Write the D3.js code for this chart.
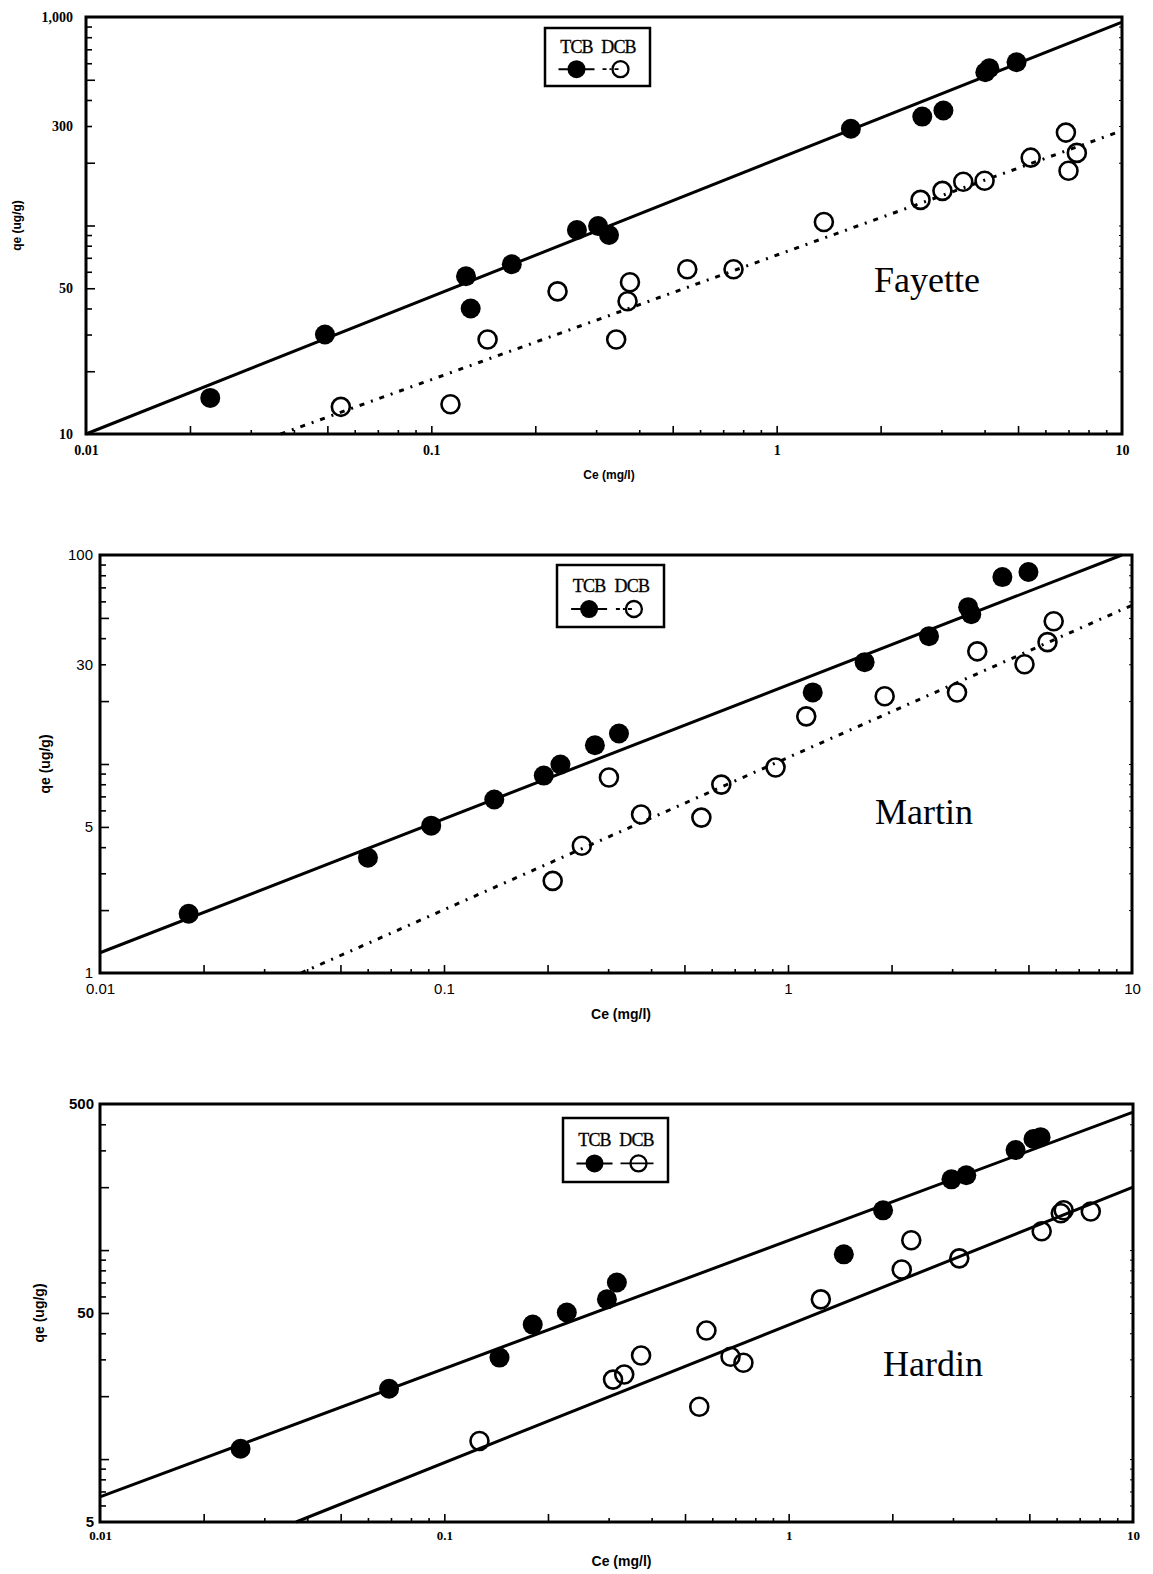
<!DOCTYPE html>
<html>
<head>
<meta charset="utf-8">
<script src="https://cdn.jsdelivr.net/npm/d3@7"></script>
<style>
  html, body { margin: 0; padding: 0; background: #fff; }
  svg { display: block; }
</style>
</head>
<body>
<svg id="chart" width="1153" height="1574"></svg>
<script>
// ---------------- DATA (Ce mg/l, qe ug/g) ----------------
const xTickValues = [0.01, 0.1, 1, 10];
const xTickLabels = ["0.01", "0.1", "1", "10"];

// Fayette
const fayetteYTicks = [10, 50, 300, 1000];
const fayetteYLabels = ["10", "50", "300", "1,000"];
const fayetteTCB = [[0.0229,14.9],[0.0492,30.0],[0.126,57.1],[0.130,40.0],[0.171,65.2],[0.264,95.1],[0.304,99.5],[0.327,90.0],[1.64,291],[2.64,333],[3.04,356],[4.02,543],[4.13,568],[4.95,607]];
const fayetteDCB = [[0.0547,13.5],[0.1136,13.9],[0.1455,28.4],[0.232,48.3],[0.343,28.4],[0.376,53.4],[0.370,43.3],[0.551,61.7],[0.75,61.7],[1.37,104],[2.61,132.7],[3.02,146.6],[3.47,162],[4.0,164],[5.44,211.5],[6.88,279],[7.4,223],[7.0,183]];
const fayetteFitTCB = [[0.01,10],[10,946]];
const fayetteFitDCB = [[0.0366,10],[10,285]];

// Martin
const martinYTicks = [1, 5, 30, 100];
const martinYLabels = ["1", "5", "30", "100"];
const martinTCB = [[0.0181,1.92],[0.0601,3.56],[0.0918,5.07],[0.140,6.76],[0.195,8.8],[0.218,9.95],[0.2746,12.3],[0.3226,14.0],[1.18,22.0],[1.67,30.7],[2.57,40.9],[3.34,56.3],[3.41,52.1],[4.20,78.4],[5.0,82.9]];
const martinDCB = [[0.207,2.76],[0.2516,4.06],[0.3016,8.62],[0.374,5.73],[0.56,5.54],[0.64,7.97],[0.92,9.62],[1.13,16.9],[1.91,21.1],[3.10,22.0],[3.55,34.6],[4.87,30.0],[5.68,38.3],[5.92,48.2]];
const martinFitTCB = [[0.01,1.25],[9.35,100]];
const martinFitDCB = [[0.0384,1],[10,57.5]];

// Hardin
const hardinYTicks = [5, 50, 500];
const hardinYLabels = ["5", "50", "500"];
const hardinTCB = [[0.0256,11.2],[0.0691,21.7],[0.1446,30.6],[0.1806,44.0],[0.2268,50.3],[0.2966,58.1],[0.317,70.0],[1.446,95.4],[1.88,155],[2.97,218],[3.28,228],[4.56,301],[5.14,340],[5.39,347]];
const hardinDCB = [[0.1265,12.2],[0.550,17.8],[0.309,24.0],[0.333,25.4],[0.3727,31.3],[0.577,41.2],[0.678,30.9],[0.739,28.9],[1.24,58.1],[2.13,80.8],[2.27,111.4],[3.13,91.3],[5.43,123],[6.17,150],[6.29,155],[7.54,153]];
const hardinFitTCB = [[0.01,6.59],[10,457]];
const hardinFitDCB = [[0.0371,5],[10,200]];

const legendNames = ["TCB", "DCB"];
const panelNames = ["Fayette", "Martin", "Hardin"];

// ---------------- DRAWING ----------------
const svg = d3.select("#chart");
const SERIF = "'Liberation Serif', 'Times New Roman', serif";
const SANS = "'Liberation Sans', Arial, sans-serif";

const panels = [
  { name: panelNames[0], box: {l:86, r:1122, t:17, b:434}, yDomain:[10,1000],
    yTicks: fayetteYTicks, yLabels: fayetteYLabels, tcb: fayetteTCB, dcb: fayetteDCB,
    fitT: fayetteFitTCB, fitD: fayetteFitDCB, dcbDash: true,
    tickFontY: {family: SERIF, size: 14, weight: "bold"}, tickFontX: {family: SERIF, size: 14, weight: "bold"},
    padX: 11, padY: 13,
    titleFont: 12, yTitleX: 18, xTitleY: 479,
    legend: {x: 545, y: 28, w: 105, h: 58}, label: {x: 927, y: 292} },
  { name: panelNames[1], box: {l:100, r:1132, t:555, b:973}, yDomain:[1,100],
    yTicks: martinYTicks, yLabels: martinYLabels, tcb: martinTCB, dcb: martinDCB,
    fitT: martinFitTCB, fitD: martinFitDCB, dcbDash: true,
    tickFontY: {family: SANS, size: 15, weight: "normal"}, tickFontX: {family: SANS, size: 15, weight: "normal"},
    padX: 10, padY: 7,
    titleFont: 14, yTitleX: 46, xTitleY: 1019,
    legend: {x: 557, y: 565, w: 107, h: 62}, label: {x: 924, y: 824} },
  { name: panelNames[2], box: {l:100, r:1133, t:1104, b:1522}, yDomain:[5,500],
    yTicks: hardinYTicks, yLabels: hardinYLabels, tcb: hardinTCB, dcb: hardinDCB,
    fitT: hardinFitTCB, fitD: hardinFitDCB, dcbDash: false,
    tickFontY: {family: SANS, size: 15, weight: "bold"}, tickFontX: {family: SERIF, size: 13, weight: "bold"},
    padX: 9, padY: 6,
    titleFont: 14, yTitleX: 40, xTitleY: 1566,
    legend: {x: 563, y: 1118, w: 105, h: 64}, label: {x: 933, y: 1376} }
];

function isMajorMinor(v) {
  const m = v / Math.pow(10, Math.floor(Math.log10(v) + 1e-9));
  const r = Math.round(m);
  return r === 1 || r === 2 || r === 5;
}

panels.forEach(p => {
  const {l, r, t, b} = p.box;
  const x = d3.scaleLog().domain([0.01, 10]).range([l, r]);
  const y = d3.scaleLog().domain(p.yDomain).range([b, t]);
  const g = svg.append("g");

  const xMinor = x.ticks().filter(v => v > 0.0100001 && v < 9.9999);
  const yMinor = y.ticks().filter(v => v > p.yDomain[0] * 1.0001 && v < p.yDomain[1] * 0.9999);

  const axB = g.append("g").attr("transform", `translate(0,${b})`)
    .call(d3.axisBottom(x).tickValues(xMinor).tickSizeInner(-5).tickSizeOuter(0).tickFormat(""));
  axB.selectAll(".tick line").attr("y2", d => isMajorMinor(d) ? -8 : -4)
    .attr("stroke", "#000").attr("stroke-width", 1.6);
  axB.select(".domain").remove();

  const axL = g.append("g").attr("transform", `translate(${l},0)`)
    .call(d3.axisLeft(y).tickValues(yMinor).tickSizeInner(-6).tickSizeOuter(0).tickFormat(""));
  axL.selectAll(".tick line").attr("x2", d => isMajorMinor(d) ? 9 : 6)
    .attr("stroke", "#000").attr("stroke-width", 1.6);
  axL.select(".domain").remove();

  const axR = g.append("g").attr("transform", `translate(${r},0)`)
    .call(d3.axisRight(y).tickValues(yMinor).tickSizeInner(-3).tickSizeOuter(0).tickFormat(""));
  axR.selectAll(".tick line").attr("stroke", "#000").attr("stroke-width", 1);
  axR.select(".domain").remove();

  const labX = g.append("g").attr("transform", `translate(0,${b})`)
    .call(d3.axisBottom(x).tickValues(xTickValues).tickSize(0).tickPadding(p.padX)
      .tickFormat((d, i) => xTickLabels[i]));
  labX.select(".domain").remove();
  labX.selectAll("text").attr("font-family", p.tickFontX.family).attr("font-size", p.tickFontX.size)
    .attr("font-weight", p.tickFontX.weight).attr("fill", "#000");

  const labY = g.append("g").attr("transform", `translate(${l},0)`)
    .call(d3.axisLeft(y).tickValues(p.yTicks).tickSize(0).tickPadding(p.padY)
      .tickFormat((d, i) => p.yLabels[i]));
  labY.select(".domain").remove();
  labY.selectAll("text").attr("font-family", p.tickFontY.family).attr("font-size", p.tickFontY.size)
    .attr("font-weight", p.tickFontY.weight).attr("fill", "#000");

  g.append("rect").attr("x", l).attr("y", t).attr("width", r - l).attr("height", b - t)
    .attr("fill", "none").attr("stroke", "#000").attr("stroke-width", 3);

  g.append("text").attr("transform", `translate(${p.yTitleX},${(t + b) / 2}) rotate(-90)`)
    .attr("text-anchor", "middle").attr("dominant-baseline", "middle")
    .attr("font-family", SANS).attr("font-weight", "bold").attr("font-size", p.titleFont)
    .text("qe (ug/g)");
  g.append("text").attr("x", (l + r) / 2 + 5).attr("y", p.xTitleY)
    .attr("text-anchor", "middle")
    .attr("font-family", SANS).attr("font-weight", "bold").attr("font-size", p.titleFont)
    .text("Ce (mg/l)");

  const line = d3.line().x(d => x(d[0])).y(d => y(d[1]));
  g.append("path").datum(p.fitT).attr("d", line).attr("fill", "none")
    .attr("stroke", "#000").attr("stroke-width", 3);
  const dl = g.append("path").datum(p.fitD).attr("d", line).attr("fill", "none")
    .attr("stroke", "#000").attr("stroke-width", 3);
  if (p.dcbDash) dl.attr("stroke-dasharray", "5,7,2,7");

  g.append("g").selectAll("circle").data(p.dcb).join("circle")
    .attr("cx", d => x(d[0])).attr("cy", d => y(d[1])).attr("r", 9)
    .attr("fill", "none").attr("stroke", "#000").attr("stroke-width", 2.6);
  g.append("g").selectAll("circle").data(p.tcb).join("circle")
    .attr("cx", d => x(d[0])).attr("cy", d => y(d[1])).attr("r", 10)
    .attr("fill", "#000");

  const L = p.legend;
  const lg = g.append("g");
  lg.append("rect").attr("x", L.x).attr("y", L.y).attr("width", L.w).attr("height", L.h)
    .attr("fill", "#fff").attr("stroke", "#000").attr("stroke-width", 2.5);
  const c1 = L.x + L.w * 0.3, c2 = L.x + L.w * 0.7;
  const ty = L.y + L.h * 0.43, sy = L.y + L.h * 0.71;
  [c1, c2].forEach((cx, i) => {
    lg.append("text").attr("x", cx).attr("y", ty).attr("text-anchor", "middle")
      .attr("font-family", SERIF).attr("font-size", 18).attr("letter-spacing", -0.8)
      .attr("stroke", "#000").attr("stroke-width", 0.3)
      .text(legendNames[i]);
  });
  lg.append("line").attr("x1", c1 - 18).attr("x2", c1 + 18).attr("y1", sy).attr("y2", sy)
    .attr("stroke", "#000").attr("stroke-width", 2);
  lg.append("circle").attr("cx", c1).attr("cy", sy).attr("r", 9).attr("fill", "#000");
  const l2 = lg.append("line").attr("x1", c2 - 16).attr("x2", c2 + (p.dcbDash ? 2 : 17)).attr("y1", sy).attr("y2", sy)
    .attr("stroke", "#000").attr("stroke-width", 1.8);
  if (p.dcbDash) l2.attr("stroke-dasharray", "4,3,2,3");
  lg.append("circle").attr("cx", c2 + 2).attr("cy", sy).attr("r", 8).attr("fill", "none")
    .attr("stroke", "#000").attr("stroke-width", 2.3);

  g.append("text").attr("x", p.label.x).attr("y", p.label.y).attr("text-anchor", "middle")
    .attr("font-family", SERIF).attr("font-size", 36).text(p.name);
});
</script>
</body>
</html>
